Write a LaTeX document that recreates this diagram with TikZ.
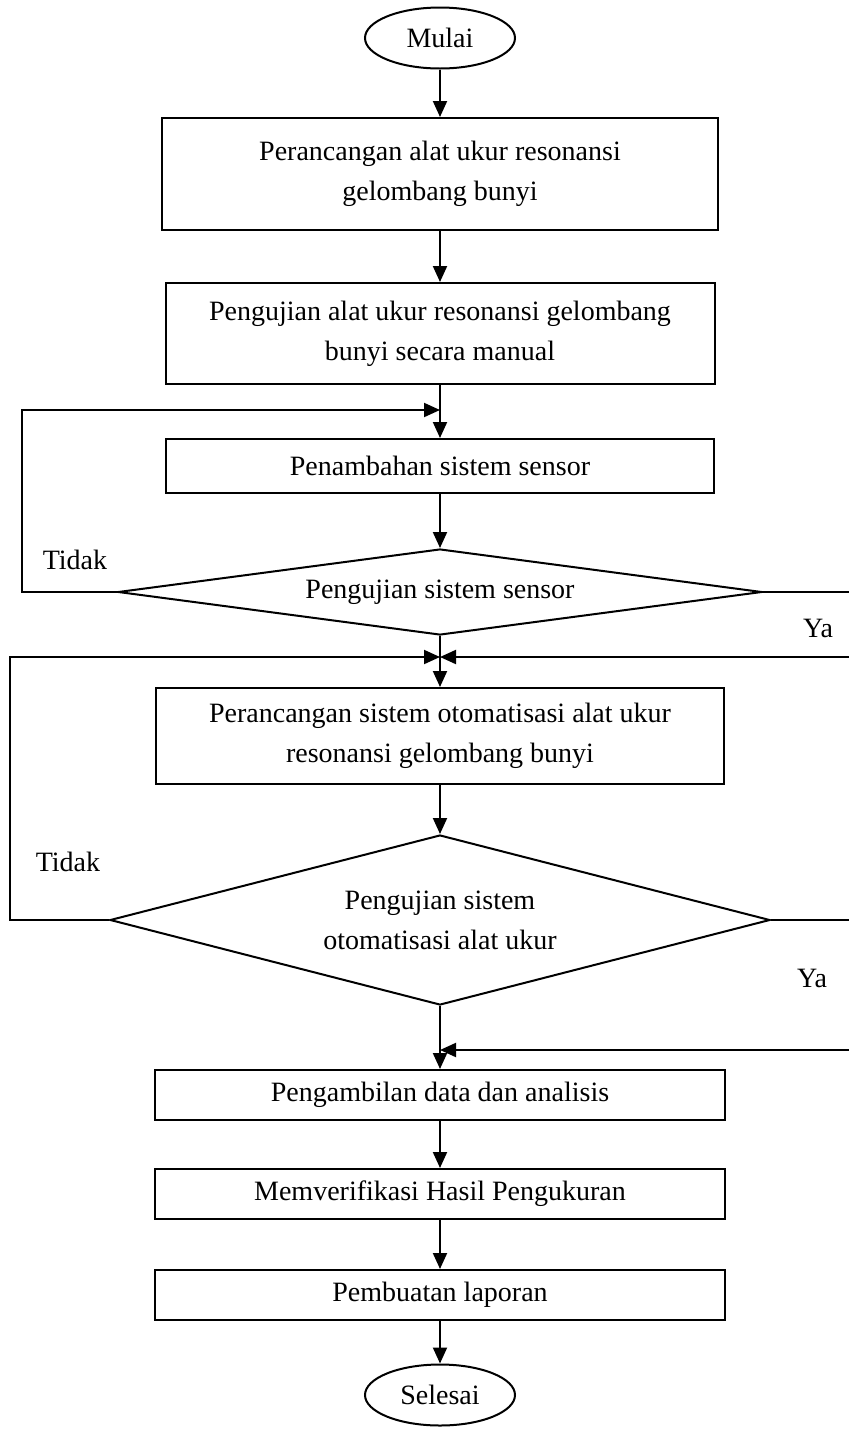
\documentclass[tikz,border=0pt]{standalone}
\usepackage{fontspec}
\setmainfont{Liberation Serif}
\usetikzlibrary{shapes.geometric,arrows.meta}
\tikzstyle{terminal}=[ellipse,draw,line width=1pt,minimum width=75pt,minimum height=30.5pt,inner sep=0pt,font=\fontsize{14}{20}\selectfont]
\tikzstyle{process}=[rectangle,draw,line width=1pt,align=center,inner sep=0pt,font=\fontsize{14}{20}\selectfont]
\tikzstyle{decision}=[diamond,draw,line width=1pt,align=center,inner sep=0pt,font=\fontsize{14}{20}\selectfont]
\tikzstyle{edge}=[draw,line width=1pt,-{Triangle[length=8pt,width=7pt]}]
\tikzstyle{answer}=[font=\fontsize{14}{20}\selectfont]

\begin{document}
\begin{tikzpicture}[x=0.5pt,y=-0.5pt]
	\useasboundingbox (0,0) rectangle (848,1436);
	% First we place the terminals and the steps
	\node[terminal] (start) at (440,38) {Mulai};
	\node[process,minimum width=278pt,minimum height=56pt] (b1) at (440,174) {Perancangan alat ukur resonansi\\gelombang bunyi};
	\node[process,minimum width=274.5pt,minimum height=50.5pt] (b2) at (440,333.5) {Pengujian alat ukur resonansi gelombang\\bunyi secara manual};
	\node[process,minimum width=274pt,minimum height=27pt] (b3) at (440,466) {Penambahan sistem sensor};
	\node[decision,aspect=7.5,minimum width=322pt,minimum height=43pt] (d1) at (440,592) {Pengujian sistem sensor};
	\node[process,minimum width=284pt,minimum height=48pt] (b4) at (440,736) {Perancangan sistem otomatisasi alat ukur\\resonansi gelombang bunyi};
	\node[decision,aspect=3.9,minimum width=330pt,minimum height=85pt] (d2) at (440,920) {Pengujian sistem\\otomatisasi alat ukur};
	\foreach \pos/\name/\txt in {{(440,1095)/b5/Pengambilan data dan analisis}, {(440,1194)/b6/Memverifikasi Hasil Pengukuran}, {(440,1295)/b7/Pembuatan laporan}}
	\node[process,minimum width=285pt,minimum height=25pt] (\name) at \pos {\txt};
	\node[terminal] (end) at (440,1395) {Selesai};

	% Answers of the two tests
	\node[answer] (no1) at (75,560) {Tidak};
	\node[answer] (yes1) at (818,628) {Ya};
	\node[answer] (no2) at (68,862) {Tidak};
	\node[answer] (yes2) at (812,978) {Ya};

	% Junctions and rails of the loops
	\coordinate (j1) at (440,410);
	\coordinate (j2) at (440,657);
	\coordinate (j3) at (440,1050);
	\coordinate (railA) at (22,0);
	\coordinate (railB) at (10,0);
	\coordinate (railC) at (851,0);

	% Main flow
	\foreach \source/\dest in {start/b1, b1/b2, b2/b3, b3/d1, d1/b4, b4/d2, d2/b5, b5/b6, b6/b7, b7/end}
	\path[edge] (\source) -- (\dest);

	% Loops back
	\path[edge] (d1.west) -- (d1.west -| railA) |- (j1);
	\path[edge] (d1.east) -- (d1.east -| railC) |- (j2);
	\path[edge] (d2.west) -- (d2.west -| railB) |- (j2);
	\path[edge] (d2.east) -- (d2.east -| railC) |- (j3);
\end{tikzpicture}
\end{document}
